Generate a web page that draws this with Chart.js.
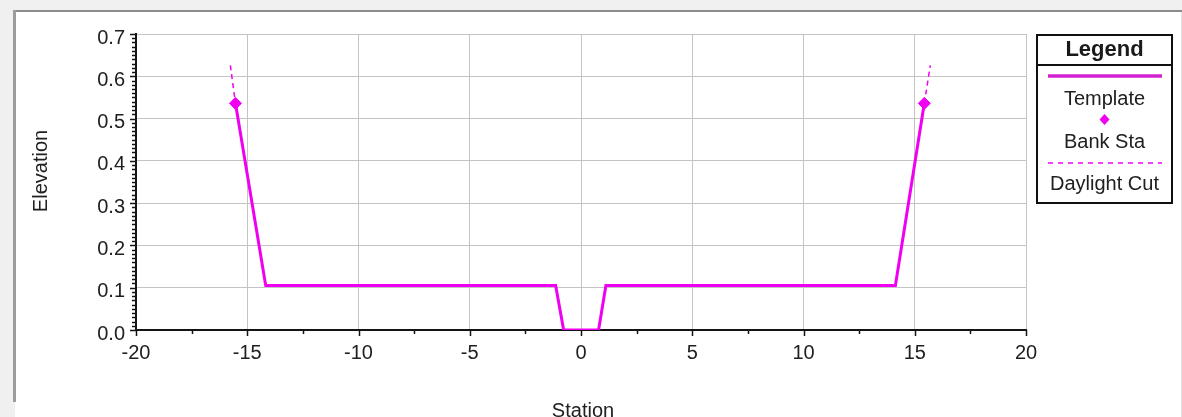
<!DOCTYPE html>
<html>
<head>
<meta charset="utf-8">
<script src="https://cdn.jsdelivr.net/npm/chart.js@4/dist/chart.umd.min.js"></script>
<style>
  html, body { margin: 0; padding: 0; background: #f0f0f0; }
  #wrap { position: relative; width: 1182px; height: 417px; }
  canvas { display: block; }
</style>
</head>
<body>
<div id="wrap"><canvas id="xs" width="1182" height="417"></canvas></div>
<script>
// Channel cross section: template profile, bank stations and daylight cut lines
const templateStation   = [-15.53, -14.17, -1.14, -0.78, 0.79, 1.12, 14.13, 15.43];
const templateElevation = [0.536, 0.105, 0.105, 0.0, 0.0, 0.105, 0.105, 0.536];

const bankStation   = [-15.53, 15.43];
const bankElevation = [0.536, 0.536];

const daylightLeftStation    = [-15.76, -15.53];
const daylightLeftElevation  = [0.626, 0.536];
const daylightRightStation   = [15.43, 15.70];
const daylightRightElevation = [0.536, 0.626];

const xTickValues = [-20, -15, -10, -5, 0, 5, 10, 15, 20];
const yTickValues = [0.0, 0.1, 0.2, 0.3, 0.4, 0.5, 0.6, 0.7];
const legendLabels = ['Template', 'Bank Sta', 'Daylight Cut'];

const MAGENTA = '#f000f0';
const FONT = 'Liberation Sans';
const TEXT = '#202020';

const toPoints = (xs, ys) => xs.map((x, i) => ({ x: x, y: ys[i] }));

// frame of the dialog panel behind the chart
const framePlugin = {
  id: 'frame',
  beforeDraw(chart) {
    const ctx = chart.ctx;
    ctx.save();
    ctx.fillStyle = '#f0f0f0';
    ctx.fillRect(0, 0, chart.width, chart.height);
    ctx.fillStyle = '#ffffff';
    ctx.fillRect(15, 11, chart.width - 15, chart.height - 11);
    ctx.fillStyle = '#8c8c8c';
    ctx.fillRect(13, 10, chart.width - 13, 2);
    ctx.fillStyle = '#9c9c9c';
    ctx.fillRect(13, 10, 3, 392);
    ctx.fillStyle = '#e4e4e4';
    ctx.fillRect(chart.width - 1, 12, 1, chart.height - 12);
    ctx.restore();
  }
};

// major / minor tick marks, axis titles and the boxed legend
const decorPlugin = {
  id: 'decor',
  afterDraw(chart) {
    const ctx = chart.ctx;
    const xs = chart.scales.x, ys = chart.scales.y;
    const area = chart.chartArea;
    ctx.save();
    ctx.strokeStyle = '#141414';
    ctx.lineWidth = 1.5;
    ctx.beginPath();
    for (let v = -20; v <= 20.001; v += 2.5) {
      const px = Math.round(xs.getPixelForValue(v)) + 0.5;
      const major = Math.abs(v % 5) < 1e-6;
      ctx.moveTo(px, area.bottom);
      ctx.lineTo(px, area.bottom + (major ? 6 : 4));
    }
    for (let i = 0; i <= 70; i++) {
      const v = i / 100;
      const py = Math.round(ys.getPixelForValue(v)) + 0.5;
      const major = i % 10 === 0;
      ctx.moveTo(area.left, py);
      ctx.lineTo(area.left - (major ? 6 : 4), py);
    }
    ctx.stroke();

    // axis titles
    ctx.fillStyle = TEXT;
    ctx.font = '20px "' + FONT + '"';
    ctx.textAlign = 'center';
    ctx.textBaseline = 'middle';
    ctx.fillText('Station', 583, 411);
    ctx.save();
    ctx.translate(41, 171);
    ctx.rotate(-Math.PI / 2);
    ctx.fillText('Elevation', 0, 0);
    ctx.restore();

    // legend box
    const L = 1037, T = 35, R = 1172, B = 203;
    const cx = (L + R) / 2;
    ctx.strokeStyle = '#101010';
    ctx.lineWidth = 2;
    ctx.strokeRect(L, T, R - L, B - T);
    ctx.beginPath();
    ctx.moveTo(L, 65);
    ctx.lineTo(R, 65);
    ctx.stroke();

    ctx.font = 'bold 22px "' + FONT + '"';
    ctx.fillStyle = '#1a1a1a';
    ctx.fillText('Legend', cx, 50);

    ctx.strokeStyle = '#d020d0';
    ctx.lineWidth = 3.5;
    ctx.beginPath();
    ctx.moveTo(1048, 76);
    ctx.lineTo(1162, 76);
    ctx.stroke();

    ctx.font = '20px "' + FONT + '"';
    ctx.fillStyle = TEXT;
    ctx.fillText(legendLabels[0], cx, 99);

    ctx.fillStyle = MAGENTA;
    ctx.beginPath();
    ctx.moveTo(cx, 114);
    ctx.lineTo(cx + 5, 119.5);
    ctx.lineTo(cx, 125);
    ctx.lineTo(cx - 5, 119.5);
    ctx.closePath();
    ctx.fill();

    ctx.fillStyle = TEXT;
    ctx.fillText(legendLabels[1], cx, 142);

    ctx.strokeStyle = MAGENTA;
    ctx.lineWidth = 1.5;
    ctx.setLineDash([5, 5]);
    ctx.beginPath();
    ctx.moveTo(1048, 163);
    ctx.lineTo(1162, 163);
    ctx.stroke();
    ctx.setLineDash([]);

    ctx.fillStyle = TEXT;
    ctx.fillText(legendLabels[2], cx, 184);
    ctx.restore();
  }
};

Chart.defaults.font.family = FONT;
Chart.defaults.font.size = 20;
Chart.defaults.color = TEXT;

new Chart(document.getElementById('xs'), {
  type: 'scatter',
  data: {
    datasets: [
      {
        label: legendLabels[0],
        data: toPoints(templateStation, templateElevation),
        showLine: true,
        borderColor: MAGENTA,
        borderWidth: 3,
        pointRadius: 0,
        tension: 0,
        order: 3
      },
      {
        label: legendLabels[2],
        data: toPoints(daylightLeftStation, daylightLeftElevation),
        showLine: true,
        borderColor: MAGENTA,
        borderWidth: 1.5,
        borderDash: [5, 4],
        pointRadius: 0,
        order: 2
      },
      {
        label: legendLabels[2],
        data: toPoints(daylightRightStation, daylightRightElevation),
        showLine: true,
        borderColor: MAGENTA,
        borderWidth: 1.5,
        borderDash: [5, 4],
        pointRadius: 0,
        order: 2
      },
      {
        label: legendLabels[1],
        data: toPoints(bankStation, bankElevation),
        showLine: false,
        pointStyle: 'rectRot',
        pointRadius: 6,
        pointBackgroundColor: MAGENTA,
        pointBorderColor: MAGENTA,
        pointBorderWidth: 1,
        order: 1
      }
    ]
  },
  options: {
    responsive: false,
    animation: false,
    devicePixelRatio: 1,
    layout: { padding: { left: 0, right: 156, top: 34, bottom: 0 } },
    plugins: {
      legend: { display: false },
      tooltip: { enabled: false }
    },
    scales: {
      x: {
        type: 'linear',
        min: xTickValues[0],
        max: xTickValues[xTickValues.length - 1],
        afterBuildTicks(scale) { scale.ticks = xTickValues.map(v => ({ value: v })); },
        afterFit(scale) { scale.height = 87; },
        ticks: {
          padding: 11,
          maxRotation: 0,
          autoSkip: false,
          callback: v => String(v)
        },
        grid: { color: '#c4c4c4', lineWidth: 1, drawTicks: false },
        border: { color: '#141414', width: 2 }
      },
      y: {
        type: 'linear',
        min: yTickValues[0],
        max: yTickValues[yTickValues.length - 1],
        afterBuildTicks(scale) { scale.ticks = yTickValues.map(v => ({ value: v })); },
        afterFit(scale) { scale.width = 136; },
        ticks: {
          padding: 11,
          labelOffset: 4,
          autoSkip: false,
          callback: v => Number(v).toFixed(1)
        },
        grid: { color: '#c4c4c4', lineWidth: 1, drawTicks: false },
        border: { color: '#141414', width: 2 }
      }
    }
  },
  plugins: [framePlugin, decorPlugin]
});
</script>
</body>
</html>
